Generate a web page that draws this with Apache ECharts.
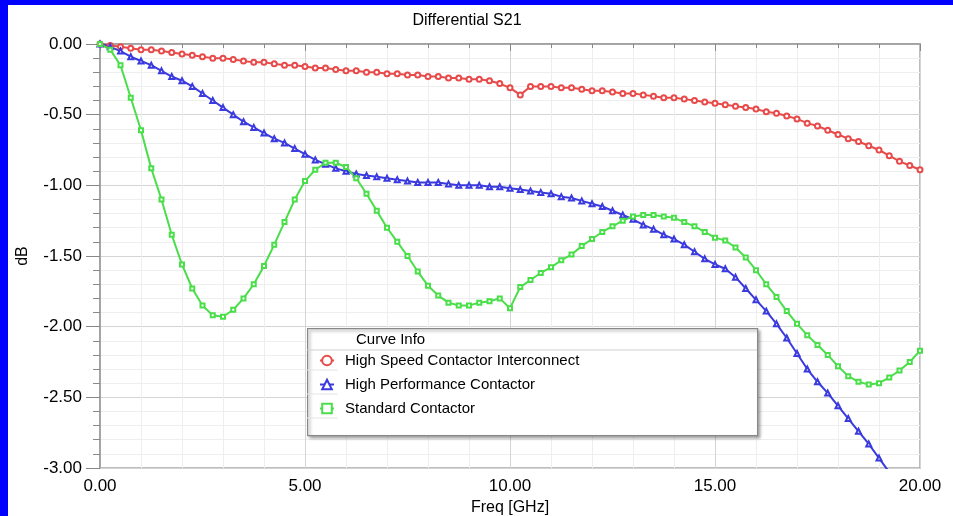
<!DOCTYPE html>
<html>
<head>
<meta charset="utf-8">
<script src="https://cdn.jsdelivr.net/npm/echarts@6/dist/echarts.min.js"></script>
<style>
  html, body { margin: 0; padding: 0; background: #fff; }
  #chart { width: 953px; height: 516px; }
</style>
</head>
<body>
<div id="chart"></div>
<script>
// frequency points, GHz (read every 0.25 GHz)
var freq = [];
for (var i = 0; i <= 80; i++) freq.push(i * 0.25);

var highSpeed = [
  0, -0.01, -0.02, -0.03, -0.04, -0.04, -0.05, -0.06, -0.07, -0.08,
  -0.09, -0.10, -0.10, -0.11, -0.12, -0.13, -0.13, -0.14, -0.15, -0.15,
  -0.16, -0.17, -0.17, -0.18, -0.19, -0.19, -0.20, -0.20, -0.21, -0.21,
  -0.22, -0.22, -0.23, -0.23, -0.24, -0.24, -0.25, -0.25, -0.26, -0.28,
  -0.31, -0.36, -0.30, -0.30, -0.30, -0.31, -0.31, -0.32, -0.33, -0.33,
  -0.34, -0.35, -0.35, -0.36, -0.37, -0.38, -0.38, -0.39, -0.40, -0.41,
  -0.42, -0.43, -0.44, -0.45, -0.46, -0.48, -0.49, -0.51, -0.53, -0.56,
  -0.58, -0.61, -0.64, -0.67, -0.69, -0.72, -0.75, -0.79, -0.83, -0.86,
  -0.89
];

var highPerf = [
  0, -0.02, -0.05, -0.09, -0.12, -0.15, -0.19, -0.23, -0.26, -0.30,
  -0.35, -0.40, -0.45, -0.50, -0.55, -0.59, -0.63, -0.67, -0.70, -0.74,
  -0.78, -0.82, -0.85, -0.88, -0.90, -0.92, -0.93, -0.94, -0.95, -0.96,
  -0.97, -0.98, -0.98, -0.98, -0.99, -1.00, -1.00, -1.00, -1.01, -1.01,
  -1.02, -1.03, -1.04, -1.05, -1.06, -1.08, -1.09, -1.11, -1.13, -1.15,
  -1.18, -1.21, -1.24, -1.28, -1.31, -1.35, -1.38, -1.42, -1.47, -1.52,
  -1.56, -1.59, -1.65, -1.73, -1.81, -1.89, -1.98, -2.08, -2.19, -2.30,
  -2.39, -2.47, -2.56, -2.65, -2.74, -2.83, -2.93, -3.03, -3.13, -3.24,
  -3.35
];

var standard = [
  0, -0.04, -0.15, -0.38, -0.61, -0.88, -1.10, -1.35, -1.56, -1.73,
  -1.85, -1.92, -1.93, -1.88, -1.80, -1.70, -1.57, -1.42, -1.26, -1.10,
  -0.97, -0.89, -0.84, -0.84, -0.87, -0.95, -1.06, -1.18, -1.30, -1.40,
  -1.50, -1.61, -1.71, -1.78, -1.83, -1.85, -1.85, -1.83, -1.82, -1.80,
  -1.87, -1.72, -1.67, -1.62, -1.58, -1.53, -1.49, -1.43, -1.38, -1.33,
  -1.29, -1.25, -1.22, -1.21, -1.21, -1.22, -1.23, -1.26, -1.29, -1.33,
  -1.37, -1.39, -1.44, -1.51, -1.60, -1.70, -1.79, -1.89, -1.98, -2.06,
  -2.13, -2.20, -2.28, -2.35, -2.39, -2.41, -2.40, -2.36, -2.31, -2.25,
  -2.17
];

var seriesNames = ['High Speed Contactor Interconnect', 'High Performance Contactor', 'Standard Contactor'];

function pairs(vals) {
  return vals.map(function (v, i) { return [freq[i], v]; });
}

var font = 'Liberation Sans, Arial, sans-serif';
var chart = echarts.init(document.getElementById('chart'));

var option = {
  backgroundColor: '#fff',
  animation: false,
  title: {
    text: 'Differential S21',
    left: 462,
    top: 8,
    textAlign: 'center',
    textStyle: { fontFamily: font, fontSize: 16, fontWeight: 'normal', color: '#000' }
  },
  grid: {
    left: 100, right: 33, top: 44, bottom: 48,
    outerBoundsMode: 'none',
    show: true, borderColor: '#a8a8a8', borderWidth: 1.5, backgroundColor: '#fff'
  },
  legend: {
    orient: 'vertical',
    left: 314,
    top: 348,
    z: 6,
    itemWidth: 14,
    itemHeight: 12,
    itemGap: 9,
    data: seriesNames,
    textStyle: { fontFamily: font, fontSize: 15, color: '#000', padding: [0, 0, 0, 6] }
  },
  xAxis: {
    type: 'value',
    min: 0, max: 20, interval: 5,
    name: 'Freq [GHz]',
    nameLocation: 'middle',
    nameGap: 31,
    nameTextStyle: { fontFamily: font, fontSize: 16, color: '#000' },
    axisLine: { lineStyle: { color: '#999', width: 1.5 } },
    axisTick: { show: true, length: 7, lineStyle: { color: '#888' } },
    minorTick: { show: true, splitNumber: 5, length: 4, lineStyle: { color: '#888' } },
    splitLine: { lineStyle: { color: '#d4d4d4' } },
    minorSplitLine: { show: true, lineStyle: { color: '#eeeeee' } },
    axisLabel: {
      fontFamily: font, fontSize: 17, color: '#000', margin: 10,
      formatter: function (v) { return v.toFixed(2); }
    }
  },
  yAxis: {
    type: 'value',
    min: -3, max: 0, interval: 0.5,
    name: 'dB',
    nameLocation: 'middle',
    nameGap: 69,
    nameTextStyle: { fontFamily: font, fontSize: 16, color: '#000' },
    axisLine: { show: true, lineStyle: { color: '#999', width: 1.5 } },
    axisTick: { show: true, length: 14, lineStyle: { color: '#888' } },
    minorTick: { show: true, splitNumber: 5, length: 7, lineStyle: { color: '#888' } },
    splitLine: { lineStyle: { color: '#d4d4d4' } },
    minorSplitLine: { show: true, lineStyle: { color: '#eeeeee' } },
    axisLabel: {
      fontFamily: font, fontSize: 17, color: '#000', margin: 18,
      formatter: function (v) { return v.toFixed(2); }
    }
  },
  series: [
    {
      name: seriesNames[0],
      type: 'line',
      data: pairs(highSpeed),
      symbol: 'emptyCircle',
      symbolSize: 5,
      color: '#e84a4a',
      lineStyle: { width: 2, color: '#e84a4a' },
      itemStyle: { color: '#e84a4a', borderWidth: 1.2 }
    },
    {
      name: seriesNames[1],
      type: 'line',
      data: pairs(highPerf),
      symbol: 'emptyTriangle',
      symbolSize: 5,
      color: '#3a3ade',
      lineStyle: { width: 2, color: '#3a3ade' },
      itemStyle: { color: '#3a3ade', borderWidth: 1.2 }
    },
    {
      name: seriesNames[2],
      type: 'line',
      data: pairs(standard),
      symbol: 'emptyRect',
      symbolSize: 4,
      color: '#4ade4a',
      lineStyle: { width: 2, color: '#4ade4a' },
      itemStyle: { color: '#4ade4a', borderWidth: 1.2 }
    }
  ],
  graphic: [
    // blue frame
    { type: 'rect', left: 0, top: 0, z: 10, shape: { width: 953, height: 5 }, style: { fill: '#0000ff' } },
    { type: 'rect', left: 0, top: 0, z: 10, shape: { width: 8, height: 516 }, style: { fill: '#0000ff' } },
    // legend box
    {
      type: 'rect', left: 307, top: 328, z: 4,
      shape: { width: 450, height: 107 },
      style: { fill: '#fff', stroke: '#888', lineWidth: 1.2, shadowBlur: 3, shadowOffsetX: 2, shadowOffsetY: 2, shadowColor: 'rgba(0,0,0,0.35)' }
    },
    { type: 'line', z: 5, shape: { x1: 307, y1: 350, x2: 757, y2: 350 }, style: { stroke: '#d0d0d0', lineWidth: 1 } },
    { type: 'line', z: 5, shape: { x1: 307, y1: 370, x2: 338, y2: 370 }, style: { stroke: '#e4e4e4', lineWidth: 1 } },
    { type: 'line', z: 5, shape: { x1: 307, y1: 394, x2: 338, y2: 394 }, style: { stroke: '#e4e4e4', lineWidth: 1 } },
    { type: 'line', z: 5, shape: { x1: 307, y1: 418, x2: 338, y2: 418 }, style: { stroke: '#e4e4e4', lineWidth: 1 } },
    {
      type: 'text', left: 356, top: 332, z: 6,
      style: { text: 'Curve Info', fontFamily: font, fontSize: 15, fill: '#000' }
    }
  ]
};

chart.setOption(option);
</script>
</body>
</html>
